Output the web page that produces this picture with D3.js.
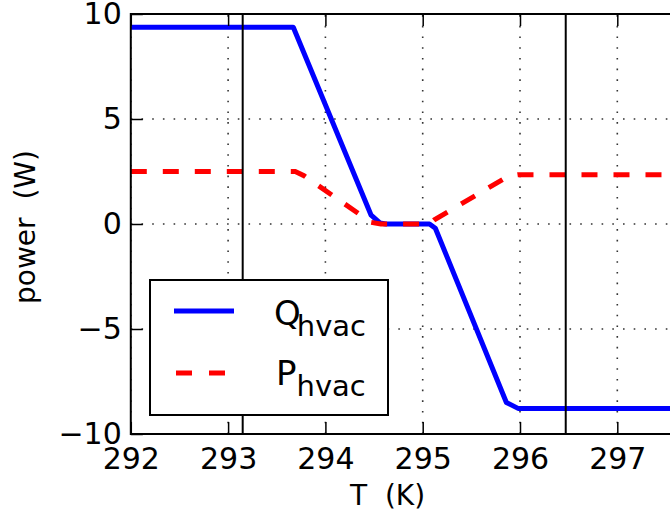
<!DOCTYPE html>
<html>
<head>
<meta charset="utf-8">
<script src="https://cdn.jsdelivr.net/npm/d3@7"></script>
<style>
  html, body { margin: 0; padding: 0; background: #fff; }
  svg { display: block; font-family: "DejaVu Sans", sans-serif; }
  .pre { white-space: pre; }
</style>
</head>
<body>
<svg id="chart" width="670" height="518"></svg>
<script>
// Temperature (K) breakpoints of the HVAC response curves
const tempQ = [292, 293.67, 294.47, 294.56, 294.62, 295.07, 295.13, 295.86, 295.98, 298];
const qHvac = [9.37, 9.37, 0.42, 0.05, 0, 0, -0.2, -8.5, -8.78, -8.78];
const tempP = [292, 293.69, 293.78, 294.47, 294.57, 295.07, 295.12, 295.88, 295.98, 298];
const pHvac = [2.5, 2.5, 2.3, 0.08, 0, 0, 0.2, 2.28, 2.35, 2.35];
// Comfort band limits
const bandLimits = [293.15, 296.47];
// Axis ticks
const xTicks = [292, 293, 294, 295, 296, 297];
const yTicks = [-10, -5, 0, 5, 10];
const legendItems = ["Q", "P"];

const svg = d3.select("#chart");
const plotLeft = 130.8, plotRight = 714.6, plotTop = 14, plotBottom = 434;

const x = d3.scaleLinear().domain([292, 298]).range([plotLeft, plotRight]);
const y = d3.scaleLinear().domain([-10, 10]).range([plotBottom, plotTop]);

// Dotted grid
const grid = svg.append("g").attr("stroke", "#333").attr("stroke-width", 1.6)
  .attr("stroke-dasharray", "1.6,9.1");
grid.selectAll("line.gx").data(xTicks).join("line").attr("class", "gx")
  .attr("x1", d => x(d)).attr("x2", d => x(d)).attr("y1", plotBottom).attr("y2", plotTop);
grid.selectAll("line.gy").data(yTicks).join("line").attr("class", "gy")
  .attr("y1", d => y(d)).attr("y2", d => y(d)).attr("x1", plotLeft).attr("x2", plotRight);

// Curves
const line = d3.line().x(d => x(d[0])).y(d => y(d[1]));
svg.append("path")
  .datum(d3.zip(tempQ, qHvac))
  .attr("d", line).attr("fill", "none")
  .attr("stroke", "#0000ff").attr("stroke-width", 5).attr("stroke-linejoin", "round");
svg.append("path")
  .datum(d3.zip(tempP, pHvac))
  .attr("d", line).attr("fill", "none")
  .attr("stroke", "#ff0000").attr("stroke-width", 5)
  .attr("stroke-dasharray", "16,16");

// Comfort band boundaries
svg.selectAll("line.band").data(bandLimits).join("line").attr("class", "band")
  .attr("x1", d => x(d)).attr("x2", d => x(d)).attr("y1", plotBottom).attr("y2", plotTop)
  .attr("stroke", "#000").attr("stroke-width", 2);

// Axes with inward ticks
function styleAxis(g) {
  g.select(".domain").remove();
  g.selectAll(".tick line").attr("stroke", "#000").attr("stroke-width", 1.5);
  g.selectAll(".tick text").attr("fill", "#000").attr("font-size", 30)
    .attr("font-family", "DejaVu Sans, sans-serif");
}
svg.append("g").attr("transform", `translate(0,${plotBottom})`)
  .call(d3.axisBottom(x).tickValues(xTicks).tickFormat(d3.format("d"))
    .tickSizeInner(-12).tickSizeOuter(0).tickPadding(14))
  .call(styleAxis);
svg.append("g").attr("transform", `translate(0,${plotTop})`)
  .call(d3.axisTop(x).tickValues(xTicks).tickFormat("")
    .tickSizeInner(-12).tickSizeOuter(0))
  .call(styleAxis);
svg.append("g").attr("transform", `translate(${plotLeft},0)`)
  .call(d3.axisLeft(y).tickValues(yTicks).tickFormat(d => d3.format("d")(d).replace("-", "\u2212"))
    .tickSizeInner(-12).tickSizeOuter(0).tickPadding(9))
  .call(styleAxis);
svg.append("g").attr("transform", `translate(${plotRight},0)`)
  .call(d3.axisRight(y).tickValues(yTicks).tickFormat("")
    .tickSizeInner(-12).tickSizeOuter(0))
  .call(styleAxis);

// Frame
svg.append("rect")
  .attr("x", plotLeft).attr("y", plotTop)
  .attr("width", plotRight - plotLeft).attr("height", plotBottom - plotTop)
  .attr("fill", "none").attr("stroke", "#000").attr("stroke-width", 2);

// Axis titles
svg.append("text").attr("class", "pre")
  .attr("x", 350).attr("y", 505).attr("font-size", 28).attr("fill", "#000")
  .text("T  (K)");
svg.append("text").attr("class", "pre")
  .attr("transform", "translate(35,227) rotate(-90)")
  .attr("text-anchor", "middle").attr("font-size", 28).attr("fill", "#000")
  .text("power  (W)");

// Legend
const lg = svg.append("g");
lg.append("rect").attr("x", 150).attr("y", 280).attr("width", 238).attr("height", 135)
  .attr("fill", "#fff").attr("stroke", "#000").attr("stroke-width", 2);
lg.append("line").attr("x1", 174).attr("x2", 234).attr("y1", 311).attr("y2", 311)
  .attr("stroke", "#0000ff").attr("stroke-width", 5);
lg.append("line").attr("x1", 176).attr("x2", 226).attr("y1", 373).attr("y2", 373)
  .attr("stroke", "#ff0000").attr("stroke-width", 5).attr("stroke-dasharray", "16,17");
const labelY = [325, 385];
legendItems.forEach((sym, i) => {
  const t = lg.append("text").attr("x", i === 0 ? 274 : 276).attr("y", labelY[i])
    .attr("font-size", 34).attr("fill", "#000");
  t.append("tspan").text(sym);
  t.append("tspan").attr("font-size", 29).attr("dy", 11).attr("dx", i === 0 ? -4 : 0).text("hvac");
});
</script>
</body>
</html>
